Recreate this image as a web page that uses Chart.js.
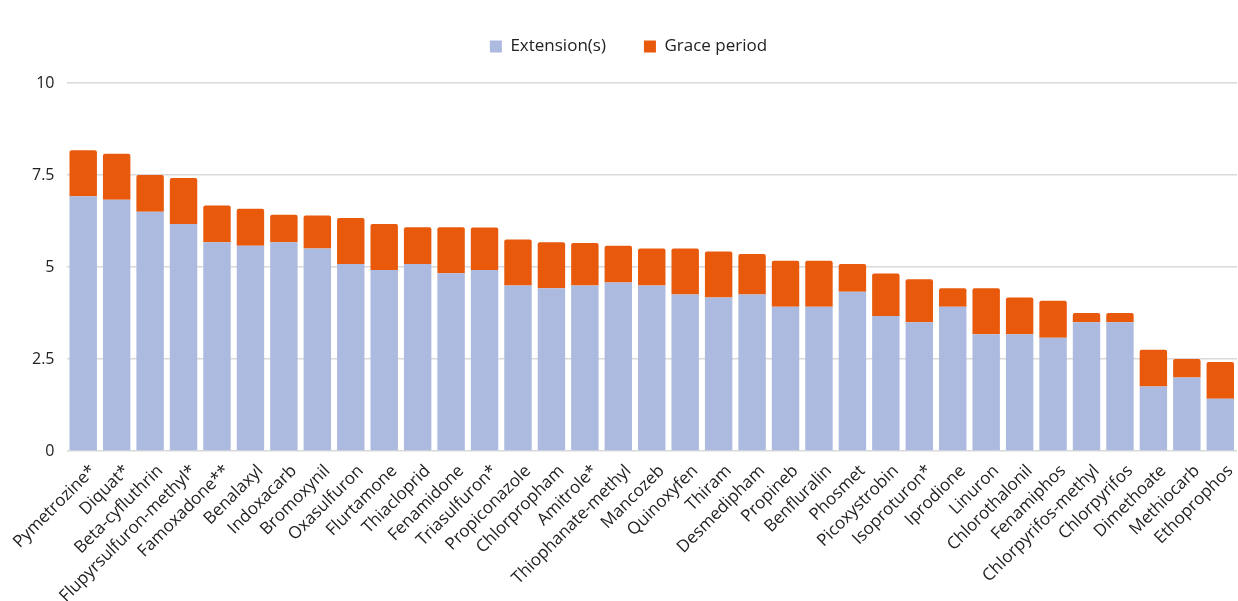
<!DOCTYPE html>
<html>
<head>
<meta charset="utf-8">
<script src="https://cdn.jsdelivr.net/npm/chart.js@4/dist/chart.umd.min.js"></script>
<style>
    html, body { margin: 0; padding: 0; background: #fff; overflow: hidden; }
    .chart-container { position: relative; width: 1238px; height: 601px; }
</style>
</head>
<body>
<div class="chart-container">
    <canvas id="chart"></canvas>
</div>
<script>
const substances = [
    'Pymetrozine*', 'Diquat*', 'Beta-cyfluthrin', 'Flupyrsulfuron-methyl*', 'Famoxadone**',
    'Benalaxyl', 'Indoxacarb', 'Bromoxynil', 'Oxasulfuron', 'Flurtamone',
    'Thiacloprid', 'Fenamidone', 'Triasulfuron*', 'Propiconazole', 'Chlorpropham',
    'Amitrole*', 'Thiophanate-methyl', 'Mancozeb', 'Quinoxyfen', 'Thiram',
    'Desmedipham', 'Propineb', 'Benfluralin', 'Phosmet', 'Picoxystrobin',
    'Isoproturon*', 'Iprodione', 'Linuron', 'Chlorothalonil', 'Fenamiphos',
    'Chlorpyrifos-methyl', 'Chlorpyrifos', 'Dimethoate', 'Methiocarb', 'Ethoprophos'
];

// years
const extensions = [
    6.92, 6.83, 6.5, 6.17, 5.67,
    5.58, 5.67, 5.5, 5.08, 4.92,
    5.08, 4.83, 4.92, 4.5, 4.42,
    4.5, 4.58, 4.5, 4.25, 4.17,
    4.25, 3.92, 3.92, 4.33, 3.67,
    3.5, 3.92, 3.17, 3.17, 3.08,
    3.5, 3.5, 1.75, 2.0, 1.42
];

const gracePeriod = [
    1.25, 1.25, 1.0, 1.25, 1.0,
    1.0, 0.75, 0.9, 1.25, 1.25,
    1.0, 1.25, 1.15, 1.25, 1.25,
    1.15, 1.0, 1.0, 1.25, 1.25,
    1.1, 1.25, 1.25, 0.75, 1.15,
    1.17, 0.5, 1.25, 1.0, 1.0,
    0.25, 0.25, 1.0, 0.5, 1.0
];

const yTicks = [0, 2.5, 5, 7.5, 10];

// leave some room between legend and plot
const legendGap = {
    id: 'legendGap',
    beforeInit(chart) {
        const fit = chart.legend.fit;
        chart.legend.fit = function () {
            fit.bind(chart.legend)();
            this.height += 18;
        };
    }
};

const ctx = document.getElementById('chart').getContext('2d');

new Chart(ctx, {
    type: 'bar',
    data: {
        labels: substances,
        datasets: [{
            label: 'Extension(s)',
            data: extensions,
            backgroundColor: '#adbadf',
            borderWidth: 0
        }, {
            label: 'Grace period',
            data: gracePeriod,
            backgroundColor: '#e8590c',
            borderWidth: 0,
            borderRadius: { topLeft: 2, topRight: 2, bottomLeft: 0, bottomRight: 0 },
            borderSkipped: false
        }]
    },
    plugins: [legendGap],
    options: {
        responsive: true,
        maintainAspectRatio: false,
        animation: false,
        layout: { padding: { top: 0, right: 1, left: 20, bottom: 0 } },
        datasets: { bar: { barPercentage: 0.82, categoryPercentage: 1 } },
        plugins: {
            legend: {
                position: 'top',
                labels: {
                    boxWidth: 12,
                    boxHeight: 12,
                    padding: 38,
                    color: '#222',
                    font: { family: 'Open Sans', size: 17 }
                }
            },
            tooltip: { enabled: false }
        },
        scales: {
            x: {
                stacked: true,
                grid: { display: false },
                border: { display: false },
                ticks: {
                    color: '#222',
                    font: { family: 'Open Sans', size: 17 },
                    maxRotation: 45,
                    minRotation: 45,
                    autoSkip: false,
                    padding: 2,
                    labelOffset: 10
                },
                afterFit: (scale) => { scale.height = 150; }
            },
            y: {
                stacked: true,
                min: 0,
                max: 10,
                afterBuildTicks: (scale) => {
                    scale.ticks = yTicks.map(v => ({ value: v }));
                },
                grid: { color: '#d9d9d9', lineWidth: 1.5, drawTicks: false },
                border: { display: false },
                ticks: {
                    color: '#222',
                    font: { family: 'Open Sans', size: 16 },
                    padding: 12
                }
            }
        }
    }
});
</script>
</body>
</html>
